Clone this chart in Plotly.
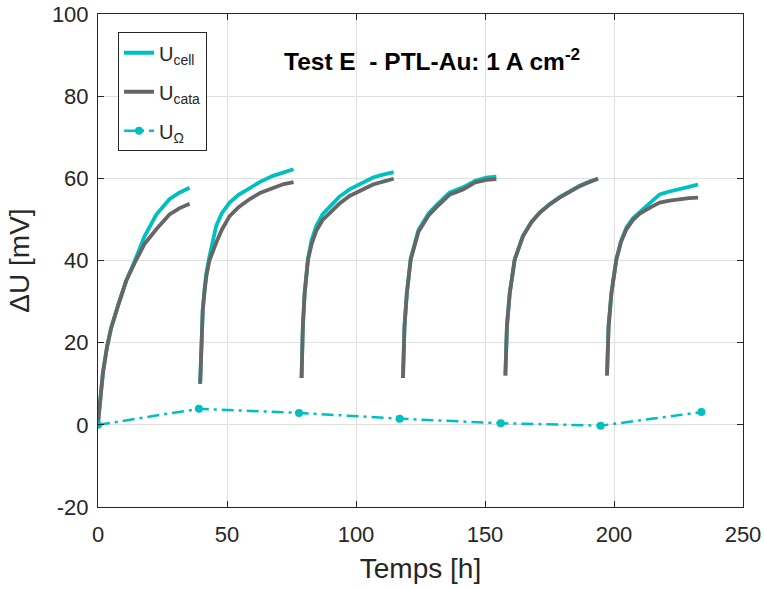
import plotly.graph_objects as go

# ---- data ----
t_seg1 = [0, 0.5, 1.0, 1.9, 3.5, 5.1, 7.7, 10.9, 14.2, 18, 22.6, 27.7, 31.5, 35.5]
cell_seg1 = [0.4, 4, 8, 12.6, 19, 23.6, 28.9, 35, 39.8, 45.8, 51.2, 54.9, 56.5, 57.7]
cata_seg1 = [0.4, 4, 8, 12.6, 19, 23.6, 28.9, 35, 39.4, 44, 47.6, 51.2, 52.7, 53.8]

t_seg2 = [39.6, 39.8, 40.0, 40.6, 41.3, 42.0, 43.2, 44.5, 45.8, 48, 51, 54.5, 58.7, 63, 67.8, 72, 75.8]
cell_seg2 = [10, 14, 19.1, 28, 33, 37, 41, 45, 48.4, 51.5, 54.1, 56, 57.7, 59.2, 60.6, 61.5, 62.2]
cata_seg2 = [10, 14, 19.1, 28, 32.5, 36.2, 40, 42.5, 44.3, 47.5, 50.8, 53, 54.9, 56.5, 57.7, 58.6, 59.1]

t_seg3 = [78.9, 79.1, 79.4, 80.1, 81.4, 82.8, 84.6, 87, 89.8, 93.5, 97.5, 102, 106.6, 110.5, 114.6]
cell_seg3 = [11.4, 17, 24, 32.1, 40.5, 45, 48.4, 51.2, 53.2, 55.5, 57.3, 58.8, 60.2, 60.9, 61.5]
cata_seg3 = [11.4, 17, 24, 32.1, 40.2, 44, 47.2, 49.8, 51.6, 53.8, 55.7, 57.2, 58.5, 59.2, 59.9]

t_seg4 = [118.2, 118.5, 118.8, 119.7, 121.2, 124.2, 128.2, 131.2, 136.2, 141.5, 146.2, 150.5, 154.4]
cell_seg4 = [11.4, 18, 24, 32, 40.5, 47.4, 51.5, 53.5, 56.5, 57.8, 59.4, 60.2, 60.4]
cata_seg4 = [11.4, 18, 24, 32, 40.2, 47, 51, 53, 56, 57.3, 59, 59.6, 59.8]

t_seg5 = [157.9, 158.1, 158.5, 159.6, 161.5, 164.7, 168, 171.2, 175, 178.9, 182.8, 186.7, 190.5, 193.8]
cell_seg5 = [12, 18, 24, 32.1, 40.2, 46.0, 49.4, 51.7, 53.7, 55.4, 56.9, 58.2, 59.2, 59.9]
cata_seg5 = [12, 18, 24, 32.1, 40.2, 45.9, 49.3, 51.6, 53.6, 55.3, 56.8, 58.1, 59.1, 59.9]

t_seg6 = [197.3, 197.5, 197.9, 199, 200.9, 202.7, 204.8, 207.3, 210, 213.8, 217.7, 221.5, 225.5, 229, 232.6]
cell_seg6 = [12, 18, 24, 32.1, 40.2, 44.7, 48, 50.3, 51.8, 54, 56.1, 56.8, 57.3, 57.9, 58.5]
cata_seg6 = [12, 18, 24, 32.1, 40.2, 44.5, 47.6, 49.8, 51.4, 52.8, 54.1, 54.6, 55, 55.2, 55.3]

t_ohm = [0, 39.1, 77.9, 116.9, 156.1, 194.8, 233.9]
u_ohm = [0, 3.9, 2.9, 1.5, 0.4, -0.2, 3.1]

x_ticks = [0, 50, 100, 150, 200, 250]
x_ticklabels = ["0", "50", "100", "150", "200", "250"]
y_ticks = [-20, 0, 20, 40, 60, 80, 100]
y_ticklabels = ["-20", "0", "20", "40", "60", "80", "100"]

segments_t = [t_seg1, t_seg2, t_seg3, t_seg4, t_seg5, t_seg6]
segments_cell = [cell_seg1, cell_seg2, cell_seg3, cell_seg4, cell_seg5, cell_seg6]
segments_cata = [cata_seg1, cata_seg2, cata_seg3, cata_seg4, cata_seg5, cata_seg6]


def join(parts):
    out = []
    for i, p in enumerate(parts):
        if i:
            out.append(None)
        out.extend(p)
    return out


t_all = join(segments_t)
cell_all = join(segments_cell)
cata_all = join(segments_cata)

CYAN = "#00BFBF"
GRAY = "#666666"
TXT = "#262626"
FONT = "Liberation Sans, Arial, sans-serif"

fig = go.Figure()
fig.add_trace(go.Scatter(x=t_all, y=cell_all, mode="lines", name="U<sub>cell</sub>",
                         legendgroup="a",
                         line=dict(color=CYAN, width=3.8), connectgaps=False))
fig.add_trace(go.Scatter(x=t_all, y=cata_all, mode="lines", name="U<sub>cata</sub>",
                         legendgroup="b",
                         line=dict(color=GRAY, width=3.8), connectgaps=False))
fig.add_trace(go.Scatter(x=t_ohm, y=u_ohm, mode="lines+markers", name="U<sub>Ω</sub>",
                         legendgroup="c",
                         line=dict(color=CYAN, width=2.5, dash="12px,5px,3px,5px"),
                         marker=dict(color=CYAN, size=8)))

axis_common = dict(
    showline=True, linecolor=TXT, linewidth=1, mirror="ticks",
    ticks="inside", ticklen=6, tickcolor=TXT, tickwidth=1,
    showgrid=True, gridcolor="#E0E0E0", gridwidth=1, zeroline=False,
    tickfont=dict(family=FONT, size=22, color=TXT), automargin=False,
    ticklabeloverflow="allow",
)

fig.update_xaxes(range=[0, 250], tickvals=x_ticks, ticktext=x_ticklabels,
                 ticklabelstandoff=8,
                 title=dict(text="Temps [h]", font=dict(family=FONT, size=28, color=TXT), standoff=11),
                 **axis_common)
fig.update_yaxes(range=[-20, 100], tickvals=y_ticks, ticktext=y_ticklabels,
                 ticklabelstandoff=4,
                 title=dict(text="ΔU [mV]", font=dict(family=FONT, size=28, color=TXT), standoff=14),
                 **axis_common)

fig.add_annotation(text="<b>Test E  - PTL-Au: 1 A cm<sup>-2</sup></b>", xref="paper", yref="paper",
                   x=0.518, y=0.908, xanchor="center", yanchor="middle", showarrow=False,
                   font=dict(family=FONT, size=24.5, color="black"))

fig.update_layout(
    width=764, height=589,
    margin=dict(l=98, r=21, t=14, b=82),
    paper_bgcolor="white", plot_bgcolor="white",
    showlegend=True,
    legend=dict(x=0.031, y=0.963, xanchor="left", yanchor="top",
                bgcolor="white", bordercolor=TXT, borderwidth=1,
                traceorder="grouped", tracegroupgap=10,
                font=dict(family=FONT, size=20, color=TXT)),
)

# remove the default page margin so the figure sits at the window's top-left corner
fig.write_html("out.html", config={"displayModeBar": False},
               post_script="document.body.style.margin='0';")
